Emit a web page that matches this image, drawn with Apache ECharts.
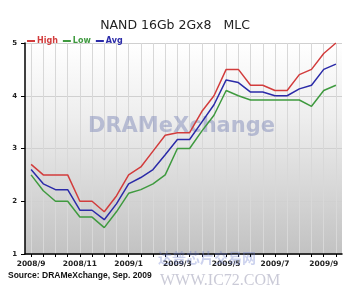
<!DOCTYPE html>
<html><head><meta charset="utf-8">
<script src="https://cdn.jsdelivr.net/npm/echarts@6/dist/echarts.min.js"></script>
<style>html,body{margin:0;padding:0;background:#fff}#c{width:350px;height:294px}</style>
</head><body><div id="c"></div>
<script>
const categories = ['2008/9-1','2008/9-2','2008/10-1','2008/10-2','2008/11-1','2008/11-2','2008/12-1','2008/12-2',
 '2009/1-1','2009/1-2','2009/2-1','2009/2-2','2009/3-1','2009/3-2','2009/4-1','2009/4-2',
 '2009/5-1','2009/5-2','2009/6-1','2009/6-2','2009/7-1','2009/7-2','2009/8-1','2009/8-2','2009/9-1','2009/9-2'];
const high = [2.7,2.5,2.5,2.5,2.0,2.0,1.8,2.1,2.5,2.65,2.95,3.25,3.3,3.3,3.7,4.0,4.5,4.5,4.2,4.2,4.1,4.1,4.4,4.5,4.8,5.0];
const avg  = [2.6,2.33,2.22,2.22,1.83,1.83,1.65,1.95,2.33,2.45,2.6,2.88,3.17,3.17,3.5,3.83,4.3,4.25,4.07,4.07,4.0,4.0,4.13,4.2,4.5,4.6];
const low  = [2.5,2.2,2.0,2.0,1.7,1.7,1.5,1.8,2.15,2.22,2.33,2.5,3.0,3.0,3.33,3.63,4.1,4.0,3.92,3.92,3.92,3.92,3.92,3.8,4.1,4.2];
const yTicks = [1,2,3,4,5];

const chart = echarts.init(document.getElementById('c'), null, {renderer:'canvas'});
const RED='#d23c3c', GREEN='#3f9a3f', BLUE='#2b2ba8';
const ff = 'Verdana, "DejaVu Sans", sans-serif';
chart.setOption({
  animation:false,
  title:{text:'NAND 16Gb 2Gx8   MLC', left:'center', top:14,
    textStyle:{fontFamily:ff, fontSize:12.5, fontWeight:'normal', color:'#222'}},
  legend:{left:22, top:32, itemWidth:8, itemHeight:2, itemGap:5, icon:'rect',
    textStyle:{fontFamily:ff, fontSize:8, fontWeight:'bold', padding:[0,0,0,-3]},
    data:[{name:'High',textStyle:{color:RED}},{name:'Low',textStyle:{color:GREEN}},{name:'Avg',textStyle:{color:BLUE}}]},
  grid:{left:25, right:8, top:43, bottom:40, show:true, borderWidth:0,
    backgroundColor:new echarts.graphic.LinearGradient(0,0,0,1,[{offset:0,color:'#ffffff'},{offset:0.35,color:'#eeeeee'},{offset:1,color:'#c2c2c2'}])},
  xAxis:{type:'category', data:categories, boundaryGap:true,
    axisLine:{lineStyle:{color:'#000', width:1.5}},
    axisTick:{show:true, alignWithLabel:true, interval:0, length:3, lineStyle:{color:'#000'}},
    axisLabel:{interval:3, fontFamily:ff, fontSize:7.5, fontWeight:'bold', color:'#222', margin:6,
      formatter:v=>v.replace(/-\d$/,'')},
    splitLine:{show:true, alignWithLabel:true, interval:0, lineStyle:{color:'#d8d8d8', width:1}}},
  yAxis:{type:'value', min:1, max:5, interval:1,
    axisLine:{show:true, lineStyle:{color:'#000', width:1.5}},
    axisTick:{show:true, length:4, lineStyle:{color:'#000'}},
    axisLabel:{fontFamily:ff, fontSize:7, fontWeight:'bold', color:'#222', margin:8,
      formatter:v=>yTicks.includes(v)?String(v):''},
    splitLine:{show:true, lineStyle:{color:'#d0d0d0'}}},
  graphic:[
    {type:'text', left:88, top:116, z:1, silent:true,
      style:{text:'DRAMeXchange', font:'bold 21px Verdana, "DejaVu Sans", sans-serif', fill:'rgba(130,140,185,0.5)'}},
    {type:'text', left:158, top:251, z:1, silent:true,
      style:{text:'达普芯片交易网', font:'bold 14px "Noto Sans CJK SC", sans-serif', fill:'rgba(110,125,205,0.35)'}},
    {type:'text', left:8, top:271, style:{text:'Source: DRAMeXchange, Sep. 2009', font:'bold 8.5px "Liberation Sans", Arial, sans-serif', fill:'#111'}},
    {type:'text', left:160, top:273, style:{text:'WWW.IC72.COM', font:'16px "Liberation Serif", serif', fill:'rgba(150,150,175,0.5)'}}
  ],
  series:[
    {name:'High', type:'line', data:high, symbol:'none', zlevel:1, lineStyle:{color:RED, width:1.5}, itemStyle:{color:RED}},
    {name:'Low', type:'line', data:low, symbol:'none', zlevel:1, lineStyle:{color:GREEN, width:1.5}, itemStyle:{color:GREEN}},
    {name:'Avg', type:'line', data:avg, symbol:'none', zlevel:1, lineStyle:{color:BLUE, width:1.5}, itemStyle:{color:BLUE}}
  ]
});
</script></body></html>
